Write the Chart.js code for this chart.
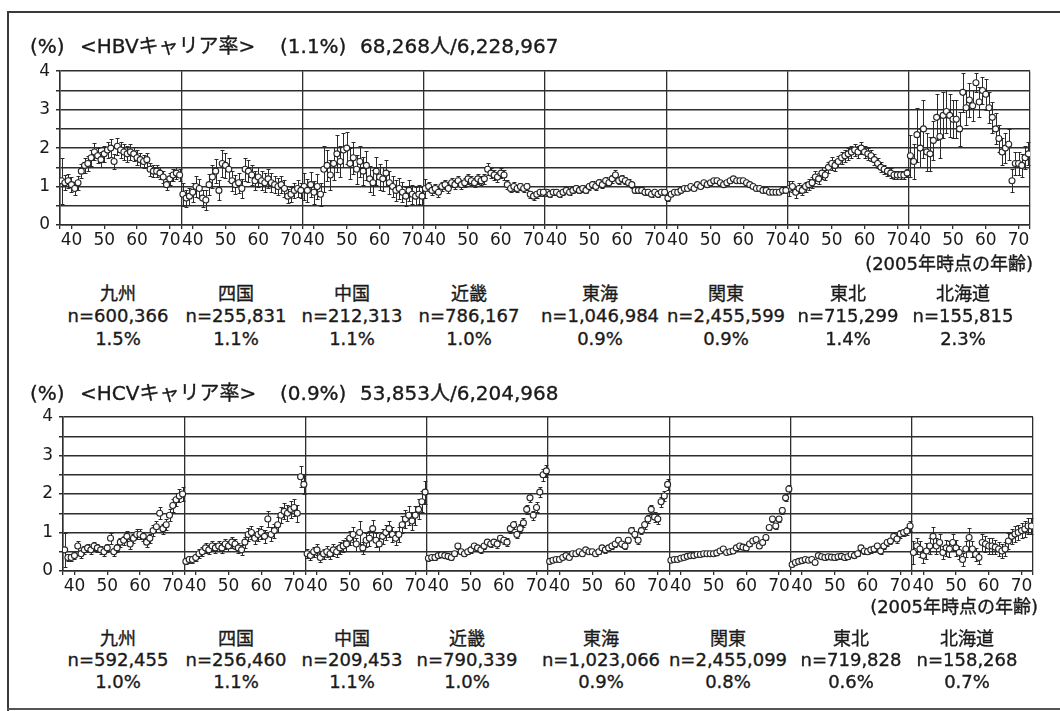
<!DOCTYPE html>
<html lang="ja">
<head>
<meta charset="utf-8">
<title>HBV・HCVキャリア率</title>
<script src="https://cdn.jsdelivr.net/npm/chart.js@4.4.1/dist/chart.umd.min.js"></script>
<style>
  html, body { margin: 0; padding: 0; background: #fff; }
  #page { position: relative; width: 1060px; height: 711px; overflow: hidden; background: #fff;
          font-family: "DejaVu Sans", "Noto Sans CJK JP", sans-serif; color: #1a1a1a; }
  canvas { position: absolute; left: 0; }
  .t { position: absolute; white-space: nowrap; line-height: 1; -webkit-text-stroke: 0.35px #1a1a1a; }
  .c { transform: translateX(-50%); }
  .r { transform: translateX(-100%); }
  .rule { position: absolute; background: #3a3a3a; }
</style>
</head>
<body>
<div id="page">
  <div class="rule" style="left:7px;top:11px;width:1053px;height:2px"></div>
  <div class="rule" style="left:7px;top:11px;width:2px;height:700px"></div>
  <div class="rule" style="left:7px;top:708px;width:1053px;height:2px;background:#555"></div>
  <canvas id="hbv" width="1060" height="200" style="top:55px"></canvas>
  <canvas id="hcv" width="1060" height="200" style="top:400px"></canvas>
</div>
<script>
// ---- categories ----
const AGES = [37,38,39,40,41,42,43,44,45,46,47,48,49,50,51,52,53,54,55,56,57,58,59,60,61,62,63,64,65,66,67,68,69,70,71,72,73];
const AXIS_AGES = [40, 50, 60, 70];
const REGIONS = ['九州', '四国', '中国', '近畿', '東海', '関東', '東北', '北海道'];

// ---- HBV carrier rate (%) by age, per region ----
const HBV_KYUSHU   = [1.15,1.10,1.15,1.05,0.95,1.10,1.40,1.55,1.60,1.75,1.90,1.80,1.70,1.85,1.95,2.00,1.65,2.05,1.95,1.90,1.85,1.90,1.85,1.75,1.70,1.65,1.70,1.45,1.40,1.40,1.35,1.25,1.05,1.20,1.30,1.35,1.30];
const HBV_SHIKOKU  = [0.80,0.70,0.75,0.85,1.00,0.95,0.70,0.65,1.05,1.25,1.40,0.90,1.60,1.55,1.45,1.15,1.05,1.10,0.95,1.45,1.40,1.30,1.15,1.25,1.15,1.10,1.20,1.10,1.05,1.00,1.05,0.95,0.75,0.80,0.90,0.95,0.90];
const HBV_CHUGOKU  = [1.00,0.90,1.05,0.85,1.00,0.80,1.45,1.55,1.30,1.60,1.85,1.65,1.95,2.00,1.60,1.75,1.45,1.65,1.40,1.55,1.20,1.10,1.40,1.25,1.20,1.35,1.10,1.00,0.90,0.95,0.85,0.75,0.90,0.80,0.75,0.80,0.75];
const HBV_KINKI    = [0.95,1.00,0.90,0.95,0.85,1.00,1.05,0.95,1.10,1.05,1.15,1.05,1.10,1.20,1.15,1.10,1.20,1.15,1.20,1.45,1.35,1.30,1.25,1.35,1.30,1.05,0.95,1.00,0.95,1.00,0.95,1.00,0.80,0.75,0.80,0.85,0.85];
const HBV_TOKAI    = [0.85,0.80,0.85,0.85,0.80,0.85,0.90,0.85,0.90,0.95,0.90,0.95,0.90,1.00,1.05,1.00,1.10,1.05,1.15,1.10,1.20,1.30,1.15,1.20,1.15,1.10,1.05,0.90,0.90,0.90,0.85,0.85,0.80,0.85,0.80,0.85,0.85];
const HBV_KANTO    = [0.70,0.80,0.85,0.85,0.90,0.95,0.95,1.00,0.95,1.05,1.00,1.10,1.05,1.10,1.15,1.15,1.10,1.05,1.10,1.15,1.20,1.15,1.15,1.15,1.10,1.05,1.00,0.95,0.95,0.90,0.90,0.85,0.85,0.85,0.85,0.90,0.90];
const HBV_TOHOKU   = [0.95,1.00,0.85,0.95,0.90,1.00,1.05,1.10,1.25,1.20,1.35,1.30,1.50,1.60,1.55,1.65,1.75,1.80,1.85,1.90,1.95,1.90,2.00,1.90,1.85,1.80,1.70,1.60,1.50,1.45,1.40,1.35,1.30,1.30,1.30,1.30,1.35];
const HBV_HOKKAIDO = [1.80,1.65,2.35,2.00,2.50,1.90,1.85,2.20,2.80,2.30,2.85,2.95,2.85,2.75,2.75,2.50,3.45,3.05,3.25,3.10,3.70,3.20,3.50,3.40,3.05,2.80,2.50,2.25,1.90,2.00,2.10,1.15,1.60,1.60,1.55,1.75,1.85];

// ---- HBV 95% CI half-widths ----
const HBV_KYUSHU_CI   = [0.60,0.20,0.18,0.20,0.17,0.18,0.19,0.20,0.19,0.21,0.22,0.20,0.19,0.21,0.22,0.24,0.19,0.22,0.21,0.20,0.20,0.21,0.19,0.19,0.18,0.18,0.18,0.17,0.16,0.16,0.16,0.15,0.14,0.15,0.15,0.16,0.15];
const HBV_SHIKOKU_CI  = [0.30,0.22,0.22,0.24,0.27,0.25,0.22,0.25,0.28,0.30,0.32,0.26,0.35,0.32,0.30,0.26,0.25,0.26,0.24,0.30,0.28,0.27,0.25,0.26,0.25,0.24,0.25,0.24,0.23,0.22,0.22,0.21,0.19,0.20,0.20,0.21,0.20];
const HBV_CHUGOKU_CI  = [0.35,0.30,0.32,0.30,0.32,0.30,0.60,0.40,0.38,0.42,0.48,0.40,0.45,0.42,0.40,0.42,0.38,0.40,0.36,0.38,0.33,0.32,0.36,0.33,0.32,0.34,0.30,0.28,0.27,0.27,0.26,0.25,0.27,0.25,0.24,0.25,0.24];
const HBV_KINKI_CI    = [0.25,0.12,0.12,0.11,0.11,0.12,0.12,0.11,0.12,0.12,0.13,0.12,0.12,0.13,0.12,0.12,0.13,0.12,0.13,0.16,0.14,0.13,0.13,0.13,0.13,0.11,0.10,0.11,0.10,0.10,0.10,0.10,0.09,0.09,0.09,0.09,0.09];
const HBV_TOKAI_CI    = [0.09,0.08,0.08,0.08,0.08,0.08,0.08,0.08,0.08,0.09,0.08,0.09,0.08,0.09,0.09,0.09,0.09,0.09,0.10,0.09,0.10,0.12,0.09,0.09,0.09,0.09,0.08,0.08,0.08,0.08,0.07,0.07,0.07,0.07,0.07,0.07,0.07];
const HBV_KANTO_CI    = [0.07,0.05,0.05,0.05,0.05,0.05,0.04,0.05,0.05,0.05,0.05,0.05,0.05,0.05,0.05,0.06,0.05,0.05,0.05,0.05,0.06,0.05,0.05,0.05,0.05,0.05,0.05,0.04,0.05,0.05,0.04,0.04,0.05,0.04,0.04,0.05,0.05];
const HBV_TOHOKU_CI   = [0.20,0.14,0.16,0.13,0.13,0.13,0.14,0.14,0.15,0.14,0.15,0.14,0.15,0.16,0.15,0.15,0.16,0.16,0.16,0.16,0.16,0.16,0.16,0.15,0.15,0.14,0.14,0.13,0.13,0.12,0.12,0.12,0.11,0.11,0.11,0.11,0.11];
const HBV_HOKKAIDO_CI = [0.55,0.45,0.70,0.50,0.75,0.50,0.45,0.50,0.60,0.55,0.60,0.55,0.55,0.50,0.50,0.45,0.50,0.45,0.45,0.40,0.25,0.40,0.35,0.40,0.40,0.40,0.40,0.35,0.35,0.40,0.40,0.30,0.30,0.30,0.30,0.30,0.30];

// ---- HCV carrier rate (%) by age, per region ----
const HCV_KYUSHU   = [0.55,0.35,0.35,0.40,0.65,0.45,0.55,0.60,0.55,0.65,0.60,0.55,0.50,0.60,0.85,0.50,0.60,0.75,0.80,0.90,0.70,0.85,0.95,0.95,0.90,0.75,0.85,1.05,1.15,1.50,1.10,1.20,1.45,1.70,1.85,1.95,2.00];
const HCV_SHIKOKU  = [0.25,0.30,0.30,0.35,0.45,0.50,0.60,0.55,0.65,0.60,0.65,0.60,0.70,0.65,0.75,0.70,0.60,0.55,0.75,0.95,1.00,0.85,0.95,1.00,0.90,1.35,0.95,1.05,1.20,1.45,1.55,1.50,1.60,1.65,1.50,2.45,2.25];
const HCV_CHUGOKU  = [0.45,0.40,0.50,0.55,0.35,0.45,0.50,0.45,0.55,0.50,0.60,0.65,0.70,0.85,0.95,0.70,1.00,0.60,0.80,0.85,1.10,0.80,0.70,0.90,1.00,1.10,0.95,0.85,0.95,1.20,1.35,1.45,1.30,1.45,1.60,1.80,2.05];
const HCV_KINKI    = [0.33,0.35,0.35,0.40,0.42,0.40,0.38,0.35,0.45,0.65,0.50,0.45,0.50,0.55,0.65,0.60,0.55,0.65,0.75,0.70,0.75,0.70,0.85,0.80,0.75,1.10,1.20,0.95,1.10,1.25,1.60,1.90,1.45,1.65,2.05,2.50,2.60];
const HCV_TOKAI    = [0.25,0.28,0.30,0.30,0.35,0.40,0.35,0.45,0.45,0.50,0.45,0.55,0.50,0.50,0.45,0.50,0.60,0.55,0.60,0.65,0.70,0.80,0.70,0.65,0.80,1.05,0.95,0.80,1.05,1.20,1.35,1.60,1.40,1.35,1.80,1.95,2.25];
const HCV_KANTO    = [0.28,0.30,0.30,0.33,0.35,0.38,0.40,0.40,0.43,0.43,0.45,0.45,0.45,0.45,0.47,0.52,0.57,0.48,0.50,0.52,0.60,0.65,0.62,0.60,0.70,0.78,0.82,0.65,0.74,0.87,1.13,1.35,1.17,1.35,1.57,1.90,2.13];
const HCV_TOHOKU   = [0.17,0.22,0.25,0.27,0.30,0.28,0.30,0.22,0.40,0.37,0.35,0.37,0.36,0.35,0.37,0.38,0.35,0.37,0.43,0.40,0.45,0.60,0.52,0.50,0.55,0.57,0.65,0.52,0.65,0.74,0.78,0.90,0.83,0.96,1.00,1.04,1.17];
const HCV_HOKKAIDO = [0.48,0.65,0.57,0.40,0.52,0.65,0.90,0.65,0.74,0.48,0.60,0.57,0.74,0.60,0.48,0.30,0.57,0.87,0.57,0.43,0.35,0.74,0.70,0.65,0.65,0.62,0.57,0.52,0.57,0.78,0.90,0.96,1.00,1.05,1.09,1.17,1.17];

// ---- HCV 95% CI half-widths ----
const HCV_KYUSHU_CI   = [0.45,0.10,0.10,0.10,0.12,0.10,0.10,0.11,0.10,0.11,0.11,0.10,0.10,0.11,0.15,0.10,0.11,0.12,0.12,0.13,0.12,0.12,0.13,0.13,0.12,0.12,0.12,0.14,0.14,0.16,0.13,0.14,0.15,0.16,0.17,0.17,0.18];
const HCV_SHIKOKU_CI  = [0.08,0.09,0.09,0.10,0.11,0.12,0.12,0.12,0.13,0.13,0.13,0.13,0.14,0.13,0.14,0.14,0.13,0.13,0.14,0.16,0.18,0.16,0.17,0.18,0.17,0.20,0.18,0.18,0.19,0.20,0.21,0.21,0.22,0.22,0.22,0.28,0.26];
const HCV_CHUGOKU_CI  = [0.12,0.12,0.13,0.14,0.12,0.13,0.14,0.13,0.15,0.14,0.15,0.16,0.17,0.18,0.19,0.17,0.30,0.16,0.18,0.19,0.22,0.18,0.17,0.19,0.20,0.21,0.19,0.18,0.19,0.22,0.23,0.25,0.23,0.25,0.26,0.28,0.30];
const HCV_KINKI_CI    = [0.06,0.06,0.06,0.06,0.06,0.06,0.06,0.06,0.07,0.07,0.07,0.07,0.07,0.07,0.07,0.07,0.08,0.08,0.08,0.08,0.08,0.09,0.09,0.09,0.10,0.10,0.10,0.10,0.11,0.12,0.12,0.12,0.12,0.13,0.14,0.15,0.16];
const HCV_TOKAI_CI    = [0.05,0.05,0.05,0.05,0.05,0.05,0.05,0.06,0.06,0.06,0.06,0.06,0.06,0.06,0.06,0.06,0.07,0.07,0.07,0.07,0.07,0.08,0.08,0.08,0.08,0.09,0.09,0.09,0.10,0.10,0.11,0.12,0.12,0.12,0.13,0.14,0.15];
const HCV_KANTO_CI    = [0.03,0.03,0.03,0.03,0.03,0.03,0.03,0.03,0.03,0.03,0.03,0.03,0.03,0.03,0.03,0.04,0.04,0.04,0.04,0.04,0.04,0.04,0.04,0.04,0.05,0.05,0.05,0.05,0.05,0.06,0.06,0.07,0.07,0.07,0.08,0.09,0.10];
const HCV_TOHOKU_CI   = [0.05,0.05,0.05,0.05,0.05,0.05,0.05,0.05,0.06,0.06,0.06,0.06,0.06,0.06,0.06,0.06,0.06,0.06,0.07,0.07,0.07,0.08,0.07,0.07,0.08,0.08,0.08,0.08,0.09,0.09,0.09,0.10,0.10,0.10,0.10,0.11,0.12];
const HCV_HOKKAIDO_CI = [0.30,0.22,0.20,0.18,0.20,0.22,0.25,0.20,0.22,0.18,0.20,0.20,0.22,0.20,0.18,0.16,0.20,0.25,0.20,0.18,0.17,0.22,0.20,0.20,0.20,0.19,0.18,0.18,0.18,0.20,0.20,0.21,0.20,0.20,0.20,0.21,0.21];

// ---- per-region summaries ----
const HBV_N    = [600366, 255831, 212313, 786167, 1046984, 2455599, 715299, 155815];
const HBV_RATE = [1.5, 1.1, 1.1, 1.0, 0.9, 0.9, 1.4, 2.3];
const HCV_N    = [592455, 256460, 209453, 790339, 1023066, 2455099, 719828, 158268];
const HCV_RATE = [1.0, 1.1, 1.1, 1.0, 0.9, 0.8, 0.6, 0.7];
const HBV_TOTAL = { rate: 1.1, positive: 68268, screened: 6228967 };
const HCV_TOTAL = { rate: 0.9, positive: 53853, screened: 6204968 };

// ---------------------------------------------------------------
const INK = '#1a1a1a';
const LINE = '#2e2e2e';
const SLOTS = AGES.length;
const fmt = n => n.toString().replace(/\B(?=(\d{3})+(?!\d))/g, ',');
const page = document.getElementById('page');

function text(str, x, y, size, cls) {
  const d = document.createElement('div');
  d.className = 't' + (cls ? ' ' + cls : '');
  d.textContent = str;
  d.style.left = x + 'px';
  d.style.top = y + 'px';
  d.style.fontSize = size + 'px';
  page.appendChild(d);
  return d;
}

// x ticks: region separators plus the 40/50/60/70 age marks inside each region
const xTickList = [];
const xLabelMap = new Map();
for (let r = 0; r <= REGIONS.length; r++) xTickList.push(r * SLOTS);
for (let r = 0; r < REGIONS.length; r++) {
  AXIS_AGES.forEach(a => {
    const v = r * SLOTS + AGES.indexOf(a) + 0.5;
    xTickList.push(v);
    xLabelMap.set(v, String(a));
  });
}
xTickList.sort((a, b) => a - b);

// vertical 95% CI bars, drawn underneath the markers
const ciBars = {
  id: 'ciBars',
  beforeDatasetsDraw(chart) {
    const { ctx, scales: { y } } = chart;
    ctx.save();
    ctx.strokeStyle = '#2a2a2a';
    ctx.lineWidth = 1;
    chart.data.datasets.forEach((ds, di) => {
      chart.getDatasetMeta(di).data.forEach((pt, j) => {
        const v = ds.data[j].y, e = ds.ci[j];
        const yt = Math.round(y.getPixelForValue(Math.min(v + e, 4))) + 0.5;
        const yb = Math.round(y.getPixelForValue(Math.max(v - e, 0))) + 0.5;
        const x = Math.round(pt.x) + 0.5;
        ctx.beginPath();
        ctx.moveTo(x, yt); ctx.lineTo(x, yb);
        ctx.moveTo(x - 2, yt); ctx.lineTo(x + 2, yt);
        ctx.moveTo(x - 2, yb); ctx.lineTo(x + 2, yb);
        ctx.stroke();
      });
    });
    ctx.restore();
  }
};

function panel(id, series, ci, geom) {
  const datasets = series.map((vals, r) => ({
    data: vals.map((v, i) => ({ x: r * SLOTS + i + 0.5, y: v })),
    ci: ci[r],
    pointRadius: 3,
    pointHoverRadius: 3,
    pointBorderWidth: 1.1,
    pointBorderColor: '#262626',
    pointBackgroundColor: '#ffffff',
    showLine: false
  }));
  return new Chart(document.getElementById(id), {
    type: 'scatter',
    data: { datasets },
    options: {
      responsive: false,
      animation: false,
      events: [],
      layout: { padding: { left: 0, right: geom.right, top: geom.top, bottom: 0 } },
      plugins: { legend: { display: false }, tooltip: { enabled: false } },
      scales: {
        x: {
          type: 'linear',
          min: 0,
          max: SLOTS * REGIONS.length,
          afterBuildTicks: s => { s.ticks = xTickList.map(v => ({ value: v })); },
          afterFit: s => { s.height = geom.xh; },
          grid: {
            color: c => (c.tick && c.tick.value % SLOTS === 0) ? LINE : 'rgba(0,0,0,0)',
            lineWidth: 1.3,
            tickColor: LINE,
            tickLength: 4
          },
          border: { color: LINE, width: 1.5 },
          ticks: {
            autoSkip: false, maxRotation: 0, minRotation: 0, padding: 1,
            color: INK,
            font: { family: 'DejaVu Sans', size: 17 },
            callback: v => xLabelMap.get(v) || ''
          }
        },
        y: {
          min: 0, max: 4,
          afterFit: s => { s.width = geom.yw; },
          grid: { color: LINE, lineWidth: 1.5, tickColor: LINE, tickLength: 4 },
          border: { color: LINE, width: 1.5 },
          ticks: {
            stepSize: 0.5, autoSkip: false, padding: 6, color: INK,
            font: { family: 'DejaVu Sans', size: 17 },
            callback: v => Number.isInteger(v) ? String(v) : ''
          }
        }
      }
    },
    plugins: [ciBars]
  });
}

panel('hbv',
  [HBV_KYUSHU, HBV_SHIKOKU, HBV_CHUGOKU, HBV_KINKI, HBV_TOKAI, HBV_KANTO, HBV_TOHOKU, HBV_HOKKAIDO],
  [HBV_KYUSHU_CI, HBV_SHIKOKU_CI, HBV_CHUGOKU_CI, HBV_KINKI_CI, HBV_TOKAI_CI, HBV_KANTO_CI, HBV_TOHOKU_CI, HBV_HOKKAIDO_CI],
  { top: 14, right: 30, xh: 30, yw: 60 });

panel('hcv',
  [HCV_KYUSHU, HCV_SHIKOKU, HCV_CHUGOKU, HCV_KINKI, HCV_TOKAI, HCV_KANTO, HCV_TOHOKU, HCV_HOKKAIDO],
  [HCV_KYUSHU_CI, HCV_SHIKOKU_CI, HCV_CHUGOKU_CI, HCV_KINKI_CI, HCV_TOKAI_CI, HCV_KANTO_CI, HCV_TOHOKU_CI, HCV_HOKKAIDO_CI],
  { top: 17, right: 27, xh: 29, yw: 63 });

// ---- titles, axis note and region captions ----
function title(marker, total, top) {
  text('(%)', 30, top, 20);
  text('<' + marker + 'キャリア率>', 80, top, 20);
  text('(' + total.rate.toFixed(1) + '%)', 280, top, 20);
  text(fmt(total.positive) + '人/' + fmt(total.screened), 360, top, 20);
}
title('HBV', HBV_TOTAL, 36);
title('HCV', HCV_TOTAL, 383);

text('(2005年時点の年齢)', 1033, 255, 18, 'r');
text('(2005年時点の年齢)', 1038, 598, 18, 'r');

const CAPTION_X_TOP = [118, 236, 352, 469, 600, 726, 848, 963];
const CAPTION_X_BOTTOM = [118, 236, 352, 467, 601, 728, 851, 967];
function captions(xs, ns, rates, rows) {
  REGIONS.forEach((name, r) => {
    text(name, xs[r], rows[0], 18, 'c');
    text('n=' + fmt(ns[r]), xs[r], rows[1], 18, 'c');
    text(rates[r].toFixed(1) + '%', xs[r], rows[2], 18, 'c');
  });
}
captions(CAPTION_X_TOP, HBV_N, HBV_RATE, [285, 307, 330]);
captions(CAPTION_X_BOTTOM, HCV_N, HCV_RATE, [630, 651, 673]);
</script>
</body>
</html>
